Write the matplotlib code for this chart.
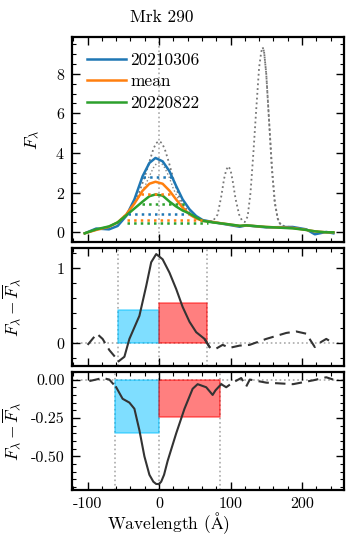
import matplotlib
matplotlib.use('Agg')
import matplotlib.pyplot as plt
import numpy as np
from matplotlib.ticker import MultipleLocator, AutoMinorLocator

plt.rcParams['font.family'] = 'serif'
plt.rcParams['font.serif'] = ['cmr10', 'DejaVu Serif']
plt.rcParams['mathtext.fontset'] = 'cm'
plt.rcParams['axes.formatter.use_mathtext'] = True
plt.rcParams['axes.unicode_minus'] = True

# top panel: broad Hbeta profiles
wl = [-104, -88, -70, -58, -46, -34.5, -23, -13.5, -5, 5, 14.6, 24, 33, 42.6, 52, 61,
      75, 94, 113, 122, 150, 187, 206, 218, 234, 244]
f_0306 = [-0.05, 0.19, 0.15, 0.32, 0.82, 1.66, 2.83, 3.5, 3.75, 3.58, 3.08, 2.33, 1.66, 1.16, 0.82, 0.62,
          0.52, 0.40, 0.28, 0.35, 0.25, 0.27, 0.15, -0.1, 0.02, -0.05]
f_mean = [-0.05, 0.12, 0.28, 0.5, 0.9, 1.45, 2.1, 2.45, 2.55, 2.45, 2.1, 1.65, 1.25, 0.9, 0.7, 0.58,
          0.52, 0.42, 0.32, 0.35, 0.27, 0.22, 0.12, 0.05, 0.0, 0.0]
f_0822 = [-0.05, 0.15, 0.3, 0.5, 0.85, 1.2, 1.55, 1.82, 1.91, 1.85, 1.55, 1.3, 1.1, 0.95, 0.75, 0.58,
          0.5, 0.42, 0.33, 0.35, 0.27, 0.2, 0.12, 0.05, 0.0, 0.0]

# total spectrum with narrow lines (gray dotted)
wl_tot = [-104, -88, -70, -58, -46, -35, -28, -20, -14, -8, -4, 0, 4, 8, 14, 20, 28, 35, 45, 60, 75,
          82, 87, 91, 94, 97, 100, 103, 107, 112, 116, 120, 124, 128, 132, 136, 140, 143, 145,
          147, 150, 154, 158, 162, 166, 169, 175, 190, 206, 218, 234, 244]
f_tot = [-0.05, 0.12, 0.28, 0.5, 0.9, 1.5, 2.0, 2.8, 3.5, 4.2, 4.5, 4.6, 4.5, 4.2, 3.5, 2.7, 1.8, 1.3,
         0.9, 0.6, 0.55, 0.9, 1.8, 2.7, 3.15, 3.33, 3.15, 2.6, 1.7, 0.9, 0.6, 0.52, 0.8, 2.0, 4.0, 6.2,
         8.3, 9.1, 9.33, 9.1, 8.0, 5.6, 3.2, 1.5, 0.7, 0.45, 0.3, 0.25, 0.12, 0.05, 0.0, 0.0]
wl_nar = [-35, -28, -20, -14, -8, -4, 0, 4, 8, 14, 20, 28, 35]
f_nar = [1.45, 1.8, 2.3, 2.8, 3.25, 3.45, 3.5, 3.45, 3.25, 2.8, 2.2, 1.6, 1.25]
# second copy of the [OIII] flank (appears solid where the two dotted curves overlap)
wl_o3 = [145, 147, 150, 154, 158, 162, 166, 169, 175]
f_o3 = [9.33, 9.1, 8.0, 5.6, 3.2, 1.5, 0.7, 0.45, 0.3]

# 25% and 75% levels
levels = {
    '20210306': [(2.8, -22, 18), (0.9, -44, 40)],
    'mean': [(1.95, -25, 16), (0.63, -45, 60)],
    '20220822': [(1.43, -24, 36), (0.46, -45, 68)],
}

# middle panel: 20210306 minus mean
wl_d1 = [-100, -87, -79, -69.6, -56.5, -48.5, -41.5, -27.5, -18, -11, -4, 5, 14.6, 24, 33, 42.6,
         52, 63.7, 70.7, 80, 89, 98.7, 112.8, 126.8, 150, 178, 192, 206, 218, 227, 234, 241]
d1 = [-0.03, 0.12, 0.05, -0.10, -0.25, -0.19, 0.05, 0.36, 0.76, 1.08, 1.19, 1.12, 0.94, 0.72, 0.48,
      0.28, 0.14, 0.05, -0.06, -0.08, -0.03, -0.07, -0.04, -0.03, 0.05, 0.13, 0.15, 0.12, -0.06, 0.01,
      0.05, 0.01]
win1 = (-57, 67.5)
box1 = (0.44, 0.53)

# bottom panel: 20220822 minus mean
wl_d2 = [-97.6, -79, -69.6, -60, -51, -41.5, -34.5, -27.5, -20.5, -13.5, -8, -4, 0, 3, 7, 12, 24, 35.6, 47,
         54, 66, 75, 79, 87, 94, 103, 115, 122, 127, 150, 187.5, 215.6, 234, 243.6]
d2 = [-0.01, 0.01, 0.0, -0.05, -0.125, -0.15, -0.19, -0.33, -0.50, -0.62, -0.665, -0.68, -0.68, -0.665,
      -0.62, -0.53, -0.35, -0.19, -0.06, -0.03, -0.05, -0.10, -0.07, -0.03, -0.05, -0.02, 0.01, -0.045,
      0.0, -0.02, -0.03, -0.005, 0.015, 0.0]
win2 = (-61, 85)
box2 = (-0.35, -0.245)

xticks = [-100, 0, 100, 200]
xticklabels = ['-100', '0', '100', '200']

colors = {'20210306': '#1f77b4', 'mean': '#ff7f0e', '20220822': '#2ca02c'}

fig = plt.figure(figsize=(3.63, 5.44), dpi=100)
gs = fig.add_gridspec(3, 1, height_ratios=[206, 118, 119], hspace=0.04,
                      left=0.198, right=0.948, top=0.932, bottom=0.099)
ax1 = fig.add_subplot(gs[0])
ax2 = fig.add_subplot(gs[1], sharex=ax1)
ax3 = fig.add_subplot(gs[2], sharex=ax1)

# top
ax1.axvline(0, color='#aaaaaa', ls=':', lw=1.2, zorder=0)
ax1.plot(wl_tot, f_tot, color='#777777', ls=':', lw=1.3)
ax1.plot(wl_o3, f_o3, color='#777777', ls=(1.2, (1, 1.6)), lw=1.3)
ax1.plot(wl_nar, f_nar, color='#888888', ls=':', lw=1.0)
ax1.plot(wl, f_0306, color=colors['20210306'], lw=1.8, label='20210306')
ax1.plot(wl, f_mean, color=colors['mean'], lw=1.8, label='mean')
ax1.plot(wl, f_0822, color=colors['20220822'], lw=1.8, label='20220822')
for name, lv in levels.items():
    for y, x0, x1 in lv:
        ax1.plot([x0, x1], [y, y], color=colors[name], ls=':', lw=1.8)
ax1.set_ylim(-0.5, 9.85)
ax1.yaxis.set_major_locator(MultipleLocator(2))
ax1.yaxis.set_minor_locator(MultipleLocator(0.5))
ax1.set_ylabel(r'$F_\lambda$', fontsize=12.5)
ax1.legend(loc='upper left', frameon=False, fontsize=12.5, handlelength=2.2,
           handletextpad=0.25, labelspacing=0.35, borderaxespad=0.6, borderpad=0.3)

fig.text(162 / 363, 1 - 17 / 544, 'Mrk 290', ha='center', va='center', fontsize=12.5)


def diff_panel(ax, x, d, win, box, color_l='#00bfff', color_r='#ff0000'):
    x = np.array(x)
    d = np.array(d)
    inside = (x >= win[0] - 5) & (x <= win[1] + 5)
    ax.axhline(0, color='#aaaaaa', ls=':', lw=1.2, zorder=0)
    for v in (win[0], 0, win[1]):
        ax.axvline(v, color='#aaaaaa', ls=':', lw=1.2, zorder=0)
    ax.fill_between([win[0], 0], [0, 0], [box[0], box[0]], color=color_l, alpha=0.5, lw=1.2)
    ax.fill_between([0, win[1]], [0, 0], [box[1], box[1]], color=color_r, alpha=0.5, lw=1.2)
    left = x <= win[0] + 5
    right = x >= win[1] - 5
    ax.plot(x[left], d[left], color='#333333', ls=(0, (5, 3)), lw=1.5)
    ax.plot(x[right], d[right], color='#333333', ls=(0, (5, 3)), lw=1.5)
    ax.plot(x[inside], d[inside], color='#333333', lw=1.5)
    ax.set_ylabel(r'$F_\lambda-\overline{F}_\lambda$', fontsize=12.5)


diff_panel(ax2, wl_d1, d1, win1, box1)
ax2.set_ylim(-0.31, 1.27)
ax2.yaxis.set_major_locator(MultipleLocator(1))
ax2.yaxis.set_minor_locator(MultipleLocator(0.2))

diff_panel(ax3, wl_d2, d2, win2, box2)
ax3.set_ylim(-0.72, 0.052)
ax3.yaxis.set_major_locator(MultipleLocator(0.25))
ax3.yaxis.set_minor_locator(AutoMinorLocator())
ax3.yaxis.set_major_formatter(matplotlib.ticker.FormatStrFormatter('%.2f'))

ax1.set_xlim(-122, 259)
ax3.set_xticks(xticks)
ax3.set_xticklabels(xticklabels)
ax3.xaxis.set_minor_locator(MultipleLocator(20))

fig.text(168 / 363, 1 - 523 / 544, r'Wavelength ($\mathrm{\AA}$)', ha='center', va='center',
         fontsize=12.5)

for ax in (ax1, ax2, ax3):
    ax.tick_params(which='both', direction='in', top=True, right=True, labelsize=11.5)
    ax.tick_params(which='major', length=6, width=1.0, pad=5)
    ax.tick_params(which='minor', length=3, width=0.8)
    for s in ax.spines.values():
        s.set_linewidth(1.6)
ax1.yaxis.set_label_coords(-0.115, 0.5)
ax2.yaxis.set_label_coords(-0.184, 0.5)
ax3.yaxis.set_label_coords(-0.184, 0.5)
for ax in (ax1, ax2):
    plt.setp(ax.get_xticklabels(), visible=False)

fig.savefig('out.png', dpi=100)
